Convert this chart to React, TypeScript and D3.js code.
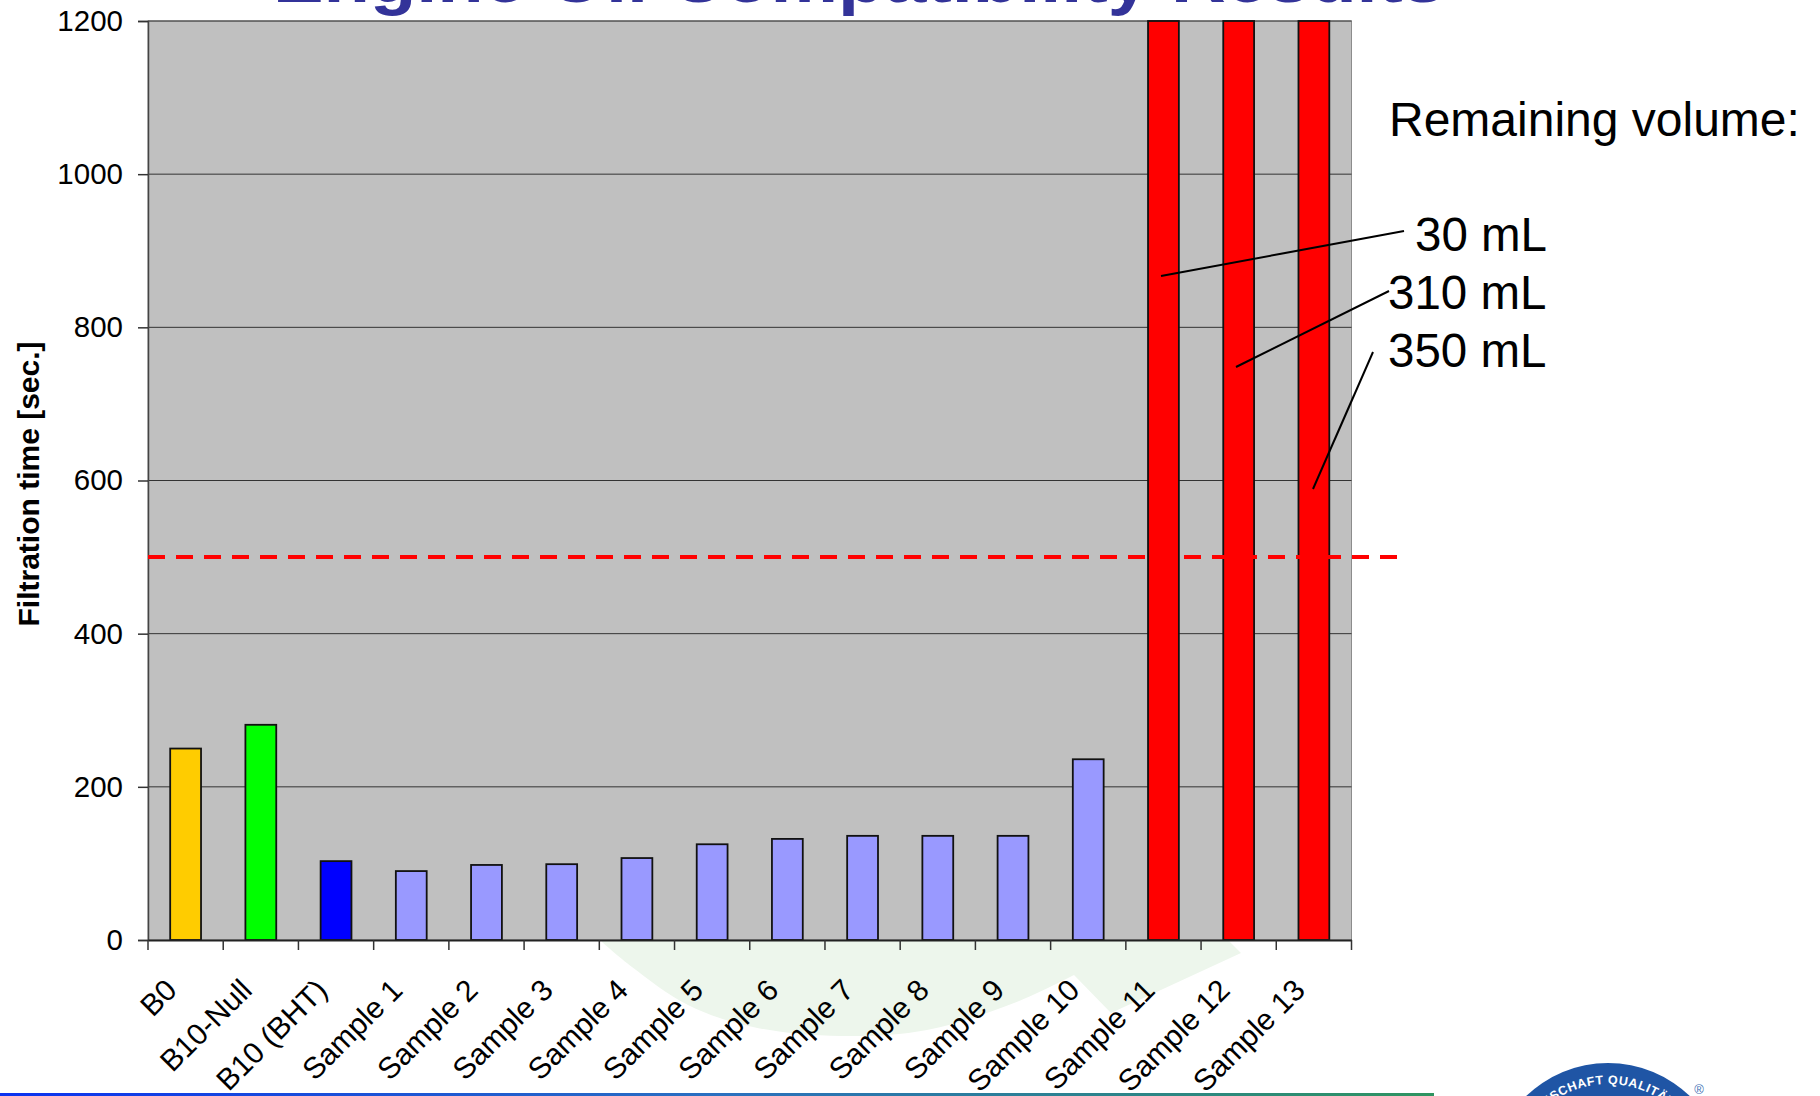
import { useEffect, useRef } from 'react'
import * as d3 from 'd3'

const CATEGORIES = ['B0', 'B10-Null', 'B10 (BHT)', 'Sample 1', 'Sample 2', 'Sample 3', 'Sample 4', 'Sample 5', 'Sample 6', 'Sample 7', 'Sample 8', 'Sample 9', 'Sample 10', 'Sample 11', 'Sample 12', 'Sample 13']
const FILTRATION = [250, 281, 103, 90, 98, 99, 107, 125, 132, 136, 136, 136, 236, 1200, 1200, 1200]
const BAR_COLORS = ['#ffcc00', '#00ff00', '#0000ff', '#9999ff', '#9999ff', '#9999ff', '#9999ff', '#9999ff', '#9999ff', '#9999ff', '#9999ff', '#9999ff', '#9999ff', '#ff0000', '#ff0000', '#ff0000']
const Y_TICKS = [0, 200, 400, 600, 800, 1000, 1200]
const LIMIT = 500

// callouts: label, baseline, leader line
const CALLOUTS = [
  { label: '30 mL', x: 1415, y: 251, line: [[1161, 276], [1404, 231]] },
  { label: '310 mL', x: 1388, y: 309, line: [[1236, 367], [1389, 291]] },
  { label: '350 mL', x: 1388, y: 367, line: [[1313, 489], [1373, 352]] },
]

// pale watermark behind the plot
const WATERMARK_ARC = [[602, 942], [632, 967], [688, 1005], [753, 1027], [840, 1036], [927, 1030], [1014, 1003], [1074, 975]]
const WATERMARK_TAIL = [[1111, 1013], [1241, 953], [1226, 938], [602, 938]]

const FONT = '"Liberation Sans", Arial, sans-serif'
const W = 1820, H = 1096
const M = { left: 148, right: 1351.5, top: 21, bottom: 940 }

export default function App() {
  const svgRef = useRef<SVGSVGElement>(null)

  useEffect(() => {
    document.body.style.margin = '0'
    if (!svgRef.current) return
    const svg = d3.select(svgRef.current)
    svg.selectAll('*').remove()
    svg.style('font-family', FONT)

    const x = d3.scaleBand<string>().domain(CATEGORIES).range([M.left, M.right]).paddingInner(0.59).paddingOuter(0.295)
    const y = d3.scaleLinear().domain([0, 1200]).range([M.bottom, M.top])

    // background decorations
    const defs = svg.append('defs')
    const bottomGrad = defs.append('linearGradient').attr('id', 'footer')
    bottomGrad.append('stop').attr('offset', '0%').attr('stop-color', '#0a32f0')
    bottomGrad.append('stop').attr('offset', '50%').attr('stop-color', '#2a70c0')
    bottomGrad.append('stop').attr('offset', '100%').attr('stop-color', '#2e9460')

    const arcLine = d3.line().curve(d3.curveCatmullRom)(WATERMARK_ARC as [number, number][]) ?? ''
    svg.append('path')
      .attr('d', `${arcLine}L${WATERMARK_TAIL.map(p => p.join(',')).join('L')}Z`)
      .attr('fill', '#edf6ec')

    svg.append('rect').attr('x', 0).attr('y', 1093).attr('width', 1434).attr('height', 3).attr('fill', 'url(#footer)')

    // logo, cut off by the page edge
    const logoX = 1608, logoY = 1181, textR = 97
    const logo = svg.append('g')
    logo.append('circle').attr('cx', logoX).attr('cy', logoY).attr('r', 118).attr('fill', '#1f55a5')
    defs.append('path').attr('id', 'logo-arc')
      .attr('d', `M${logoX - textR},${logoY}A${textR},${textR} 0 0 1 ${logoX + textR},${logoY}`)
    const logoText = logo.append('text').attr('fill', 'white').attr('font-size', 12.5).attr('font-weight', 700).attr('letter-spacing', 0.6)
    logoText.append('textPath').attr('href', '#logo-arc').attr('startOffset', '50%').attr('text-anchor', 'end').text('GEMEINSCHAFT\u00a0')
    const logoText2 = logo.append('text').attr('fill', 'white').attr('font-size', 12.5).attr('font-weight', 700).attr('letter-spacing', 0.6)
    logoText2.append('textPath').attr('href', '#logo-arc').attr('startOffset', '50%').attr('text-anchor', 'start').text('QUALITÄT')
    svg.append('text').attr('x', 1699).attr('y', 1094).attr('text-anchor', 'middle').attr('font-size', 13).attr('fill', '#3f6fb5').text('®')

    // title sits mostly above the page
    svg.append('text').attr('transform', 'translate(859,2) scale(1.1,1)').attr('text-anchor', 'middle')
      .attr('font-size', 69).attr('font-weight', 700).attr('fill', '#333399')
      .text('Engine Oil Compatibility Results')

    // plot area + grid
    svg.append('rect').attr('x', M.left).attr('y', M.top).attr('width', M.right - M.left).attr('height', M.bottom - M.top)
      .attr('fill', '#c0c0c0').attr('stroke', '#8c8c8c').attr('stroke-width', 1)
    svg.append('g').selectAll('line').data(Y_TICKS.slice(1)).join('line')
      .attr('x1', M.left).attr('x2', M.right).attr('y1', d => y(d)).attr('y2', d => y(d))
      .attr('stroke', '#333').attr('stroke-width', 1)

    // bars
    svg.append('g').selectAll('rect').data(FILTRATION).join('rect')
      .attr('x', (_, i) => x(CATEGORIES[i]) ?? 0)
      .attr('y', d => y(d))
      .attr('width', x.bandwidth())
      .attr('height', d => y(0) - y(d))
      .attr('fill', (_, i) => BAR_COLORS[i])
      .attr('stroke', '#111').attr('stroke-width', 1.8)

    // axes
    const yAxis = d3.axisLeft(y).tickValues(Y_TICKS).tickSize(10).tickPadding(15).tickFormat(d3.format('d'))
    const yG = svg.append('g').attr('transform', `translate(${M.left},0)`).call(yAxis)
    yG.selectAll('text').attr('font-size', 29.5).attr('font-family', FONT).attr('fill', '#000')
    yG.selectAll('line').attr('stroke', '#333').attr('stroke-width', 1.5)
    yG.select('.domain').attr('stroke', '#444').attr('stroke-width', 1.5)

    const xAxis = d3.axisBottom(x).tickSize(0).tickPadding(0)
    const xG = svg.append('g').attr('transform', `translate(0,${M.bottom})`).call(xAxis)
    xG.select('.domain').attr('stroke', '#222').attr('stroke-width', 2)
    xG.selectAll('.tick text')
      .attr('font-size', 30).attr('font-family', FONT).attr('fill', '#000')
      .attr('text-anchor', 'end').attr('dy', 0).attr('y', 0)
      .attr('transform', 'translate(-7,52) rotate(-45)')

    // separators between the categories
    const step = x.step()
    svg.append('g').selectAll('line').data(d3.range(CATEGORIES.length + 1)).join('line')
      .attr('x1', d => M.left + d * step).attr('x2', d => M.left + d * step)
      .attr('y1', M.bottom).attr('y2', M.bottom + 10)
      .attr('stroke', '#333').attr('stroke-width', 1.5)

    svg.append('text').attr('transform', 'translate(39,484) rotate(-90)').attr('text-anchor', 'middle')
      .attr('font-size', 30).attr('font-weight', 700).text('Filtration time [sec.]')

    // limit line
    svg.append('line').attr('x1', M.left).attr('x2', 1397).attr('y1', y(LIMIT)).attr('y2', y(LIMIT))
      .attr('stroke', '#ff0000').attr('stroke-width', 4).attr('stroke-dasharray', '17 11')

    // callouts
    svg.append('text').attr('x', 1389).attr('y', 136).attr('font-size', 48).attr('fill', '#000').text('Remaining volume:')
    const lineGen = d3.line()
    const c = svg.append('g').selectAll('g').data(CALLOUTS).join('g')
    c.append('path').attr('d', d => lineGen(d.line as [number, number][]) ?? '').attr('stroke', '#000').attr('stroke-width', 2).attr('fill', 'none')
    c.append('text').attr('x', d => d.x).attr('y', d => d.y).attr('font-size', 47.5).attr('fill', '#000').text(d => d.label)
  }, [])

  return <svg ref={svgRef} width={W} height={H} style={{ position: 'absolute', left: 0, top: 0, display: 'block', background: '#fff' }} />
}
